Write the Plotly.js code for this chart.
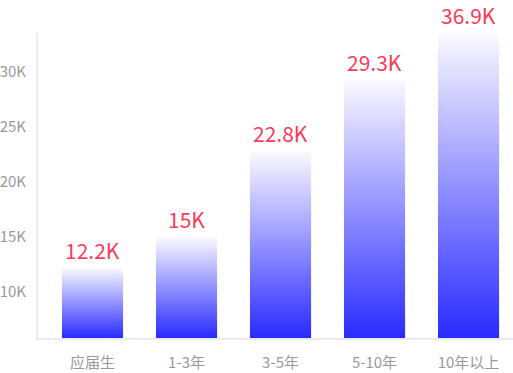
<!DOCTYPE html>
<html>
<head>
<meta charset="utf-8">
<script src="https://cdn.plot.ly/plotly-3.0.1.min.js"></script>
<style>html,body{margin:0;padding:0;background:#fff;}#chart{width:513px;height:373px;}</style>
</head>
<body>
<div id="chart"></div>
<script>
const categories = ['应届生', '1-3年', '3-5年', '5-10年', '10年以上'];
const salaryK = [12.2, 15, 22.8, 29.3, 36.9];
const valueLabels = ['12.2K', '15K', '22.8K', '29.3K', '36.9K'];
const yTicks = [10, 15, 20, 25, 30];
const yTickLabels = ['10K', '15K', '20K', '25K', '30K'];

const yRange = [5.82, 33.55];
const halfWidth = 0.325;
const FONT = '"Noto Sans CJK SC", "Noto Sans", sans-serif';

const traces = categories.map((c, i) => {
  const v = salaryK[i];
  const top = Math.min(v, yRange[1]);
  return {
    type: 'scatter',
    mode: 'lines',
    x: [i - halfWidth, i + halfWidth, i + halfWidth, i - halfWidth, i - halfWidth],
    y: [0, 0, v, v, 0],
    fill: 'toself',
    line: {width: 0},
    fillgradient: {
      type: 'vertical',
      start: yRange[0],
      stop: top,
      colorscale: [[0, '#2a2aff'], [1, '#fafaff']]
    },
    hoverinfo: 'skip',
    showlegend: false
  };
});

const annotations = categories.map((c, i) => ({
  x: i,
  y: Math.min(salaryK[i], yRange[1]),
  xref: 'x', yref: 'y',
  text: valueLabels[i],
  showarrow: false,
  yanchor: 'bottom',
  xanchor: 'center',
  yshift: 1,
  font: {family: FONT, size: 21, color: '#fa3c5a'}
}));

const layout = {
  width: 513, height: 373,
  margin: {l: 38, r: 0, t: 33, b: 35},
  paper_bgcolor: '#fff', plot_bgcolor: '#fff',
  showlegend: false,
  xaxis: {
    range: [-0.58, 4.473],
    tickvals: categories.map((c, i) => i),
    ticktext: categories,
    showgrid: false, zeroline: false,
    showline: true, linecolor: '#e8eaf8', linewidth: 2,
    ticks: '', ticklabelstandoff: 10,
    tickfont: {family: FONT, size: 15, color: '#999999'},
    fixedrange: true
  },
  yaxis: {
    range: yRange,
    tickvals: yTicks,
    ticktext: yTickLabels,
    showgrid: false, zeroline: false,
    showline: true, linecolor: '#e8eaf8', linewidth: 2,
    ticks: '', ticklabelstandoff: 7,
    tickfont: {family: FONT, size: 15, color: '#999999'},
    fixedrange: true
  },
  annotations: annotations
};

Plotly.newPlot('chart', traces, layout, {displayModeBar: false, staticPlot: true});
</script>
</body>
</html>
